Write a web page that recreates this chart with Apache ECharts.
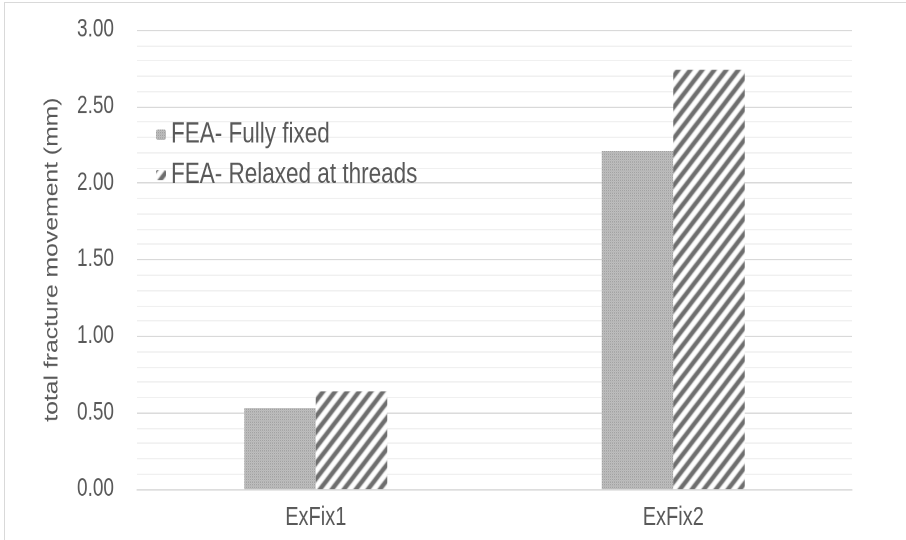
<!DOCTYPE html>
<html>
<head>
<meta charset="utf-8">
<script src="https://cdn.jsdelivr.net/npm/echarts@6/dist/echarts.min.js"></script>
<style>
html,body{margin:0;padding:0;background:#fff;}
#wrap{position:relative;width:906px;height:540px;overflow:hidden;background:#fff;}
#c{position:absolute;left:0;top:0;width:906px;height:415px;transform-origin:0 0;transform:scaleY(1.3012);}
#frame{position:absolute;left:4px;top:2px;width:1000px;height:1000px;border-left:1px solid #d9d9d9;border-top:1px solid #d9d9d9;box-sizing:border-box;pointer-events:none;}
</style>
</head>
<body>
<div id="wrap"><div id="c"></div><div id="frame"></div></div>
<script>
var categories = ['ExFix1', 'ExFix2'];
var seriesNames = ['FEA- Fully fixed', 'FEA- Relaxed at threads'];
var fullyFixed = [0.53, 2.21];
var relaxed = [0.64, 2.74];
var axisName = 'total fracture movement (mm)';

function dotPattern() {
  var c = document.createElement('canvas');
  c.width = 2; c.height = 2;
  var g = c.getContext('2d');
  g.fillStyle = '#d8d8d8'; g.fillRect(0, 0, 2, 2);
  g.fillStyle = '#7e7e7e'; g.fillRect(0, 0, 1, 1);
  g.fillStyle = '#aaaaaa'; g.fillRect(1, 1, 1, 1);
  return c;
}
function stripePattern() {
  var s = 12;
  var c = document.createElement('canvas');
  c.width = s; c.height = s;
  var g = c.getContext('2d');
  g.fillStyle = '#ffffff'; g.fillRect(0, 0, s, s);
  g.strokeStyle = '#6e6e6e'; g.lineWidth = 4;
  g.beginPath();
  g.moveTo(-s/2, s/2); g.lineTo(s/2, -s/2);
  g.moveTo(0, s); g.lineTo(s, 0);
  g.moveTo(s/2, s*1.5); g.lineTo(s*1.5, s/2);
  g.stroke();
  return c;
}

var chart = echarts.init(document.getElementById('c'), null, { devicePixelRatio: 2 });
var txt = '#595959';
chart.setOption({
  animation: false,
  backgroundColor: '#fff',
  textStyle: { fontFamily: 'Liberation Sans, Arial, sans-serif' },
  grid: { left: 137, right: 54, top: 23, bottom: 39, containLabel: false },
  legend: {
    orient: 'vertical', left: 151, top: 87,
    itemWidth: 10, itemHeight: 8, itemGap: 8,
    textStyle: { fontSize: 22.5, color: txt },
    data: seriesNames
  },
  xAxis: {
    type: 'category', data: categories,
    axisLine: { lineStyle: { color: '#d9d9d9', width: 1 } },
    axisTick: { show: false },
    axisLabel: { fontSize: 20, color: txt, margin: 12 }
  },
  yAxis: {
    type: 'value', min: 0, max: 3, interval: 0.5,
    name: axisName, nameLocation: 'middle', nameGap: 75,
    nameTextStyle: { fontSize: 19, color: txt },
    axisLine: { show: false }, axisTick: { show: false },
    axisLabel: { fontSize: 19, color: txt, margin: 23, formatter: function (v) { return v.toFixed(2); } },
    splitLine: { lineStyle: { color: '#d9d9d9', width: 1 } },
    minorTick: { show: false, splitNumber: 5 },
    minorSplitLine: { show: true, lineStyle: { color: '#f0f0f0', width: 1 } }
  },
  series: [{
    name: seriesNames[0], type: 'bar', data: fullyFixed,
    barWidth: '20%', barGap: '0%',
    itemStyle: { color: { image: dotPattern(), repeat: 'repeat' } }
  }, {
    name: seriesNames[1], type: 'bar', data: relaxed,
    barWidth: '20%', barGap: '0%',
    itemStyle: { color: { image: stripePattern(), repeat: 'repeat' } }
  }]
});
</script>
</body>
</html>
